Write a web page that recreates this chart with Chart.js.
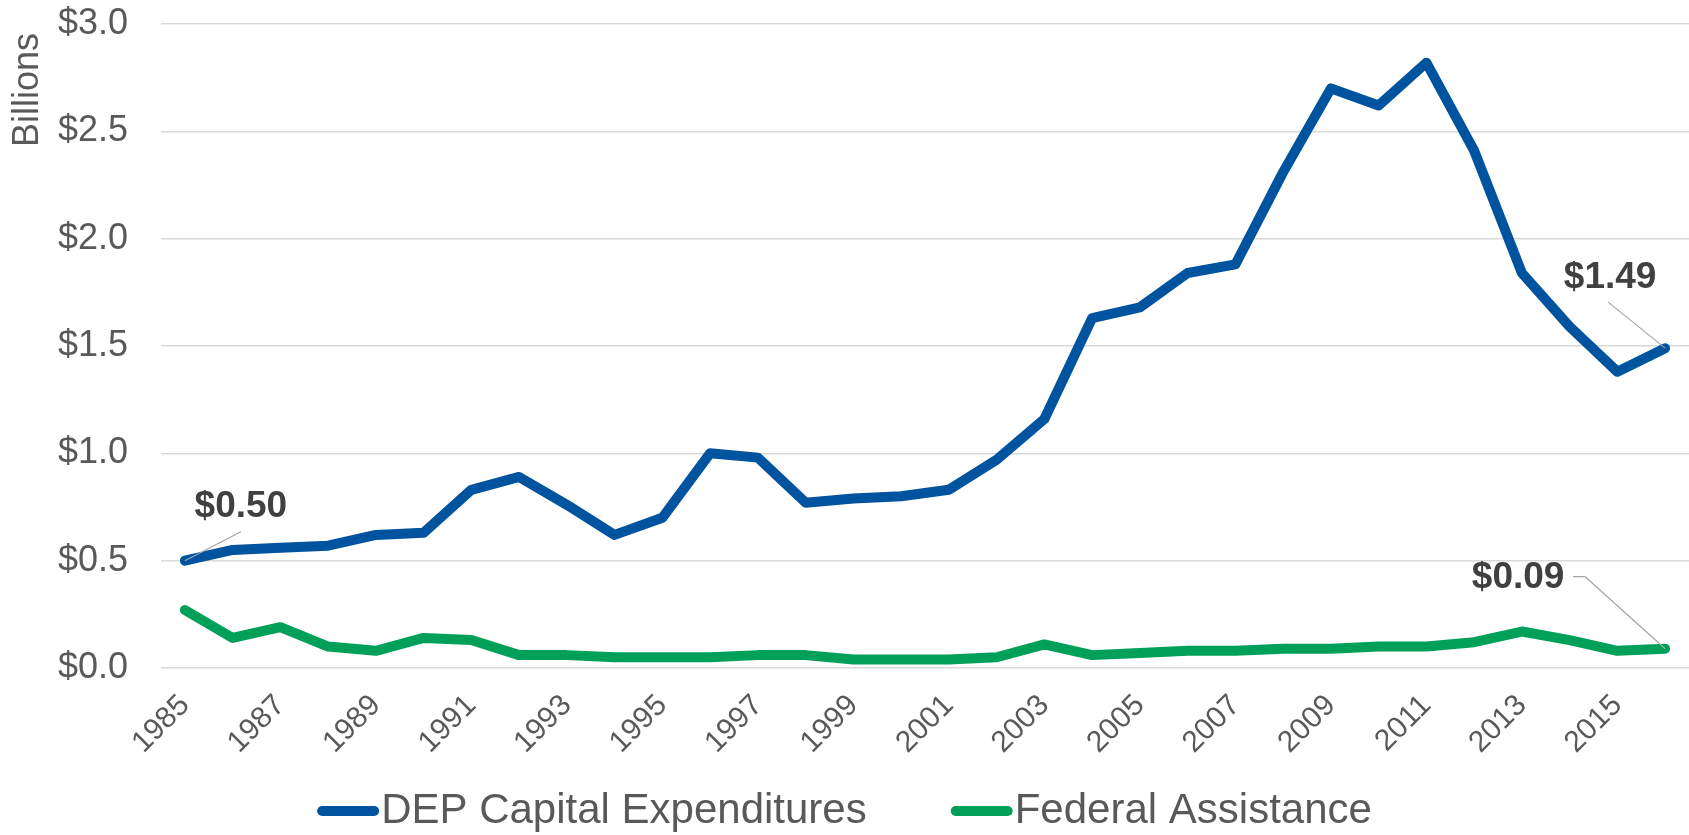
<!DOCTYPE html>
<html>
<head>
<meta charset="utf-8">
<script src="https://cdn.jsdelivr.net/npm/chart.js@4.4.1/dist/chart.umd.min.js"></script>
<style>
  html, body { margin: 0; padding: 0; background: #ffffff; }
  #wrap { width: 1689px; height: 835px; position: relative; }
</style>
</head>
<body>
<div id="wrap"><canvas id="c" width="1689" height="835"></canvas></div>
<script>
// ---- Data ----
const years = ['1985','1986','1987','1988','1989','1990','1991','1992','1993','1994','1995','1996','1997','1998','1999','2000',
               '2001','2002','2003','2004','2005','2006','2007','2008','2009','2010','2011','2012','2013','2014','2015','2016'];
const depCapitalExpenditures = [0.50,0.55,0.56,0.57,0.62,0.63,0.83,0.89,0.76,0.62,0.70,1.00,0.98,0.77,0.79,0.80,
                                0.83,0.97,1.16,1.63,1.68,1.84,1.88,2.31,2.70,2.62,2.82,2.41,1.84,1.59,1.38,1.49];
const federalAssistance = [0.27,0.14,0.19,0.10,0.08,0.14,0.13,0.06,0.06,0.05,0.05,0.05,0.06,0.06,0.04,0.04,
                           0.04,0.05,0.11,0.06,0.07,0.08,0.08,0.09,0.09,0.10,0.10,0.12,0.17,0.13,0.08,0.09];
const seriesNames = ['DEP Capital Expenditures', 'Federal Assistance'];
const yAxisTitle = 'Billions';
const yMin = 0, yMax = 3, yStep = 0.5;

// ---- Styles ----
const BLUE = '#00539F';
const GREEN = '#00A058';
const TEXT = '#595959';
const LABEL = '#404040';
const GRID = '#D9D9D9';
const FONT = "'Liberation Sans', Arial, sans-serif";

// Callouts: which point, and where the label sits relative to it (pixels)
const callouts = [
  { ds: 0, idx: 0,  dx: 56,   dy: -54, leader: [[56, -29]] },
  { ds: 0, idx: 31, dx: -55,  dy: -70, leader: [[-57, -46]] },
  { ds: 1, idx: 31, dx: -147, dy: -71, leader: [[-92, -72], [-80, -72]] }
];

const calloutPlugin = {
  id: 'callouts',
  afterDatasetsDraw(chart) {
    const ctx = chart.ctx;
    ctx.save();
    callouts.forEach(c => {
      const pt = chart.getDatasetMeta(c.ds).data[c.idx];
      const v = chart.data.datasets[c.ds].data[c.idx];
      const px = pt.x, py = pt.y;
      ctx.strokeStyle = '#A6A6A6';
      ctx.lineWidth = 1.2;
      ctx.beginPath();
      ctx.moveTo(px + c.leader[0][0], py + c.leader[0][1]);
      for (let i = 1; i < c.leader.length; i++) ctx.lineTo(px + c.leader[i][0], py + c.leader[i][1]);
      ctx.lineTo(px, py);
      ctx.stroke();
      ctx.fillStyle = LABEL;
      ctx.font = "bold 37px " + FONT;
      ctx.textAlign = 'center';
      ctx.textBaseline = 'middle';
      ctx.fillText('$' + v.toFixed(2), px + c.dx, py + c.dy);
    });
    ctx.restore();
  }
};

// Axis title drawn at the top-left, like the original
const axisTitlePlugin = {
  id: 'axisTitle',
  afterDraw(chart) {
    const ctx = chart.ctx;
    const top = chart.chartArea.top;
    ctx.save();
    ctx.translate(28, top + 9);
    ctx.rotate(-Math.PI / 2);
    ctx.font = "36px " + FONT;
    ctx.fillStyle = TEXT;
    ctx.textAlign = 'right';
    ctx.textBaseline = 'middle';
    ctx.fillText(yAxisTitle, 0, 0);
    ctx.restore();
  }
};

const legendPlugin = {
  id: 'customLegend',
  afterDraw(chart) {
    const ctx = chart.ctx;
    ctx.save();
    ctx.font = "42px " + FONT;
    const sample = 62, gapText = 2, gapItems = 84, lw = 10;
    const items = chart.data.datasets.map(d => ({ text: d.label, color: d.borderColor, w: ctx.measureText(d.label).width }));
    let total = 0;
    items.forEach((it, i) => { total += sample + gapText + it.w + (i < items.length - 1 ? gapItems : 0); });
    let x = (chart.width - total) / 2;
    const y = 811;
    items.forEach(it => {
      ctx.strokeStyle = it.color;
      ctx.lineWidth = lw;
      ctx.lineCap = 'round';
      ctx.beginPath();
      ctx.moveTo(x + lw / 2, y);
      ctx.lineTo(x + sample - lw / 2, y);
      ctx.stroke();
      ctx.fillStyle = TEXT;
      ctx.textAlign = 'left';
      ctx.textBaseline = 'middle';
      ctx.fillText(it.text, x + sample + gapText, y);
      x += sample + gapText + it.w + gapItems;
    });
    ctx.restore();
  }
};

new Chart(document.getElementById('c'), {
  type: 'line',
  data: {
    labels: years,
    datasets: [
      { label: seriesNames[0], data: depCapitalExpenditures, borderColor: BLUE, backgroundColor: BLUE,
        borderWidth: 10, pointRadius: 0, tension: 0, borderCapStyle: 'round', borderJoinStyle: 'round', fill: false },
      { label: seriesNames[1], data: federalAssistance, borderColor: GREEN, backgroundColor: GREEN,
        borderWidth: 10, pointRadius: 0, tension: 0, borderCapStyle: 'round', borderJoinStyle: 'round', fill: false }
    ]
  },
  options: {
    responsive: false,
    animation: false,
    devicePixelRatio: 1,
    layout: { padding: { top: 24, right: 0, bottom: 0, left: 0 } },
    plugins: { legend: { display: false }, tooltip: { enabled: false } },
    scales: {
      x: {
        offset: true,
        grid: { display: false },
        border: { display: false },
        ticks: {
          autoSkip: false, minRotation: 45, maxRotation: 45,
          color: TEXT, font: { family: FONT, size: 30 }, padding: 12, labelOffset: 0,
          callback: (v, i) => (i % 2 === 0 ? years[i] : '')
        },
        afterFit: s => { s.height = 167; s.paddingLeft = 0; s.paddingRight = 0; }
      },
      y: {
        min: yMin, max: yMax,
        grid: { color: GRID, lineWidth: 1.5, drawTicks: false },
        border: { display: false },
        ticks: {
          stepSize: yStep, color: TEXT, font: { family: FONT, size: 36 }, padding: 33,
          callback: v => '$' + Number(v).toFixed(1)
        },
        title: { display: false },
        afterFit: s => { s.width = 161; s.paddingTop = 0; s.paddingBottom = 0; }
      }
    }
  },
  plugins: [calloutPlugin, axisTitlePlugin, legendPlugin]
});
</script>
</body>
</html>
